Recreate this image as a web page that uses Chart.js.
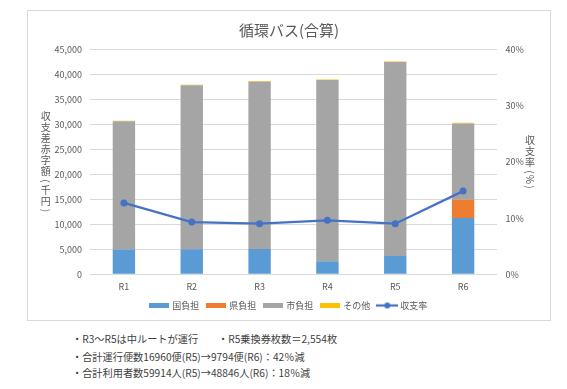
<!DOCTYPE html>
<html><head><meta charset="utf-8">
<script src="https://cdn.jsdelivr.net/npm/chart.js@4.4.1/dist/chart.umd.min.js"></script>
<style>
html,body{margin:0;padding:0;background:#fff;width:567px;height:389px;overflow:hidden;font-family:'Noto Sans CJK JP',sans-serif;}
#box{position:absolute;left:27px;top:10px;width:522px;height:309px;border:1px solid #d9d9d9;}
#box canvas{display:block;}
.note{position:absolute;font-size:10.2px;line-height:14px;color:#404040;white-space:nowrap;}
</style></head>
<body>
<div id="box"><canvas id="c" width="522" height="309"></canvas></div>
<div class="note" style="left:72px;top:332px;">・R3～R5は中ルートが運行</div>
<div class="note" style="left:218px;top:332px;">・R5乗換券枚数＝2,554枚</div>
<div class="note" style="left:72px;top:349.5px;">・合計運行便数16960便(R5)→9794便(R6)：42％減</div>
<div class="note" style="left:72px;top:366px;">・合計利用者数59914人(R5)→48846人(R6)：18％減</div>
<script>
const categories = ['R1','R2','R3','R4','R5','R6'];
const kuni   = [4940, 5000, 5070, 2600, 3670, 11270];
const ken    = [0, 0, 0, 0, 0, 3660];
const shi    = [25680, 32820, 33480, 36280, 38810, 15280];
const sonota = [120, 120, 120, 120, 120, 120];
const ritsu  = [12.7, 9.3, 9.0, 9.6, 9.0, 14.8];
const seriesNames = ['国負担','県負担','市負担','その他','収支率'];
const chartTitle = '循環バス(合算)';
const leftTitle = '収支差赤字額(千円)';
const rightTitle = '収支率(%)';

const colors = ['#5B9BD5','#ED7D31','#A5A5A5','#FFC000','#4472C4'];

function makeBox(color){const c=document.createElement('canvas');c.width=20;c.height=5;const x=c.getContext('2d');x.fillStyle=color;x.fillRect(0,0,20,5);return c;}
function makeLine(color){const c=document.createElement('canvas');c.width=22;c.height=8;const x=c.getContext('2d');x.strokeStyle=color;x.lineWidth=2.25;x.beginPath();x.moveTo(0,4);x.lineTo(22,4);x.stroke();x.fillStyle=color;x.beginPath();x.arc(11,4,3,0,Math.PI*2);x.fill();return c;}
const legendImgs=[makeBox(colors[0]),makeBox(colors[1]),makeBox(colors[2]),makeBox(colors[3]),makeLine(colors[4])];

Chart.defaults.font.family="'Noto Sans CJK JP', sans-serif";
Chart.defaults.color='#595959';

function drawV(ctx,text,x,y0,step,pstep){
  let y=y0, prevH=null;
  for(const ch of text){
    const rot='()%'.includes(ch);
    const h=rot?pstep:step;
    if(prevH!==null) y+=prevH/2+h/2;
    ctx.save();ctx.translate(x,y);
    if(rot) ctx.rotate(Math.PI/2);
    ctx.fillText(ch,0,0);ctx.restore();
    prevH=h;
  }
}
const vTitles={id:'vTitles',afterDraw(chart){
  const ctx=chart.ctx;ctx.save();ctx.fillStyle='#595959';
  ctx.font="10px 'Noto Sans CJK JP'";ctx.textAlign='center';ctx.textBaseline='middle';
  drawV(ctx,leftTitle,17.7,105.7,11,7.5);
  drawV(ctx,rightTitle,502,129.7,11,7.5);
  ctx.restore();
}};

const barDs=(i,data)=>({type:'bar',label:seriesNames[i],data,backgroundColor:colors[i],borderWidth:0,yAxisID:'y',order:1,barPercentage:0.33,categoryPercentage:1,stack:'s'});

new Chart(document.getElementById('c'),{
  data:{labels:categories,datasets:[
    barDs(0,kuni),barDs(1,ken),barDs(2,shi),barDs(3,sonota),
    {type:'line',label:seriesNames[4],data:ritsu,borderColor:colors[4],backgroundColor:colors[4],borderWidth:2.25,pointRadius:3.5,pointBackgroundColor:colors[4],pointBorderWidth:0,tension:0,yAxisID:'y2',order:0}
  ]},
  options:{
    responsive:false,animation:false,
    layout:{padding:{top:0,left:0,right:0,bottom:0}},
    plugins:{
      title:{display:true,text:chartTitle,color:'#595959',font:{size:15,weight:'normal'},padding:{top:10,bottom:10.5}},
      legend:{position:'bottom',labels:{usePointStyle:true,pointStyleWidth:17,padding:8.5,color:'#595959',font:{size:9},
        generateLabels(chart){
          const items=Chart.defaults.plugins.legend.labels.generateLabels(chart);
          items.sort((a,b)=>a.datasetIndex-b.datasetIndex);
          items.forEach(it=>{it.pointStyle=legendImgs[it.datasetIndex];it.lineWidth=0;});
          return items;}}},
      tooltip:{enabled:false}
    },
    scales:{
      x:{stacked:true,grid:{display:false,drawTicks:false},border:{display:false},ticks:{padding:7,font:{size:9},color:'#595959'},
        afterFit(s){s.height=18.2;}},
      y:{stacked:true,position:'left',min:0,max:45000,grid:{color:'#d9d9d9',drawTicks:false},border:{display:false},
        ticks:{stepSize:5000,padding:8,font:{size:9},color:'#595959',callback:v=>v.toLocaleString('en-US')},
        afterFit(s){s.width=62;}},
      y2:{position:'right',min:0,max:40,grid:{display:false,drawTicks:false},border:{display:false},
        ticks:{stepSize:10,padding:8.5,font:{size:9},color:'#595959',callback:v=>v+'%'},
        afterFit(s){s.width=53;}}
    }
  },
  plugins:[vTitles]
});
</script>
</body></html>
